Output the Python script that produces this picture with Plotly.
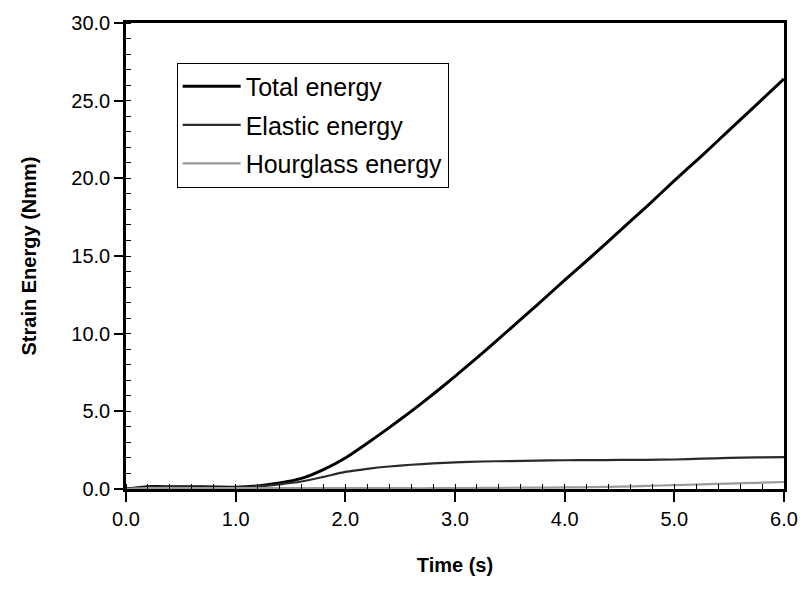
import plotly.graph_objects as go

time_s = [0.0, 0.2, 0.4, 0.6, 0.8, 1.0, 1.2, 1.4, 1.6, 1.8, 2.0, 2.2, 2.4, 2.6, 2.8, 3.0,
          3.25, 3.5, 3.75, 4.0, 4.25, 4.5, 4.75, 5.0, 5.25, 5.5, 5.75, 6.0]
total_energy = [0.0, 0.15, 0.15, 0.15, 0.13, 0.12, 0.2, 0.38, 0.68, 1.25, 2.0, 2.95, 3.95, 5.0,
                6.1, 7.25, 8.75, 10.3, 11.85, 13.45, 15.0, 16.6, 18.2, 19.85, 21.45, 23.1, 24.75, 26.4]
elastic_energy = [0.0, 0.12, 0.12, 0.12, 0.1, 0.1, 0.18, 0.3, 0.48, 0.78, 1.1, 1.3, 1.45, 1.56,
                  1.65, 1.72, 1.77, 1.8, 1.83, 1.85, 1.86, 1.87, 1.88, 1.9, 1.95, 2.0, 2.03, 2.05]
hourglass_energy = [0.0, 0.05, 0.05, 0.05, 0.05, 0.05, 0.05, 0.05, 0.05, 0.05, 0.05, 0.05, 0.05,
                    0.05, 0.05, 0.06, 0.07, 0.08, 0.09, 0.1, 0.12, 0.15, 0.2, 0.25, 0.3, 0.35, 0.4, 0.45]

series_names = ["Total energy", "Elastic energy", "Hourglass energy"]

fig = go.Figure()
fig.add_trace(go.Scatter(x=time_s, y=total_energy, mode="lines", name=series_names[0],
                         line=dict(color="black", width=3, shape="spline", smoothing=0.6), legendgroup="a"))
fig.add_trace(go.Scatter(x=time_s, y=elastic_energy, mode="lines", name=series_names[1],
                         line=dict(color="#2a2a2a", width=2.2, shape="spline", smoothing=0.6), legendgroup="b"))
fig.add_trace(go.Scatter(x=time_s, y=hourglass_energy, mode="lines", name=series_names[2],
                         line=dict(color="#9a9a9a", width=2.2, shape="spline", smoothing=0.6), legendgroup="c"))

font_family = "Liberation Sans, Arial, sans-serif"
fig.update_layout(
    width=810, height=590,
    margin=dict(l=126, r=23, t=22, b=101),
    paper_bgcolor="white", plot_bgcolor="white",
    font=dict(family=font_family, size=20, color="black"),
    showlegend=True,
    legend=dict(x=0.077, y=0.915, xanchor="left", yanchor="top",
                bordercolor="black", borderwidth=1, bgcolor="white",
                font=dict(size=25), tracegroupgap=3, traceorder="grouped",
                itemwidth=58),
)
fig.update_xaxes(
    range=[0, 6], tickmode="array", tickvals=[0, 1, 2, 3, 4, 5, 6], tickformat=".1f",
    ticks="outside", ticklen=10, tickwidth=1.5, tickcolor="black",
    minor=dict(dtick=0.2, ticks="inside", ticklen=5, tickcolor="black", tickwidth=1),
    showline=True, linecolor="black", linewidth=2.5, mirror=True,
    showgrid=False, zeroline=False,
    tickfont=dict(size=20),
    title=dict(text="<b>Time (s)</b>", font=dict(size=20), standoff=30),
)
fig.update_yaxes(
    range=[0, 30], tickmode="array", tickvals=[0, 5, 10, 15, 20, 25, 30], tickformat=".1f",
    ticks="outside", ticklen=9, tickwidth=1.5, tickcolor="black",
    minor=dict(dtick=1, ticks="inside", ticklen=5, tickcolor="black", tickwidth=1),
    showline=True, linecolor="black", linewidth=2.5, mirror=True,
    showgrid=False, zeroline=False,
    tickfont=dict(size=20),
    title=dict(text="<b>Strain Energy (Nmm)</b>", font=dict(size=20), standoff=30),
)

fig.write_html("out.html")
